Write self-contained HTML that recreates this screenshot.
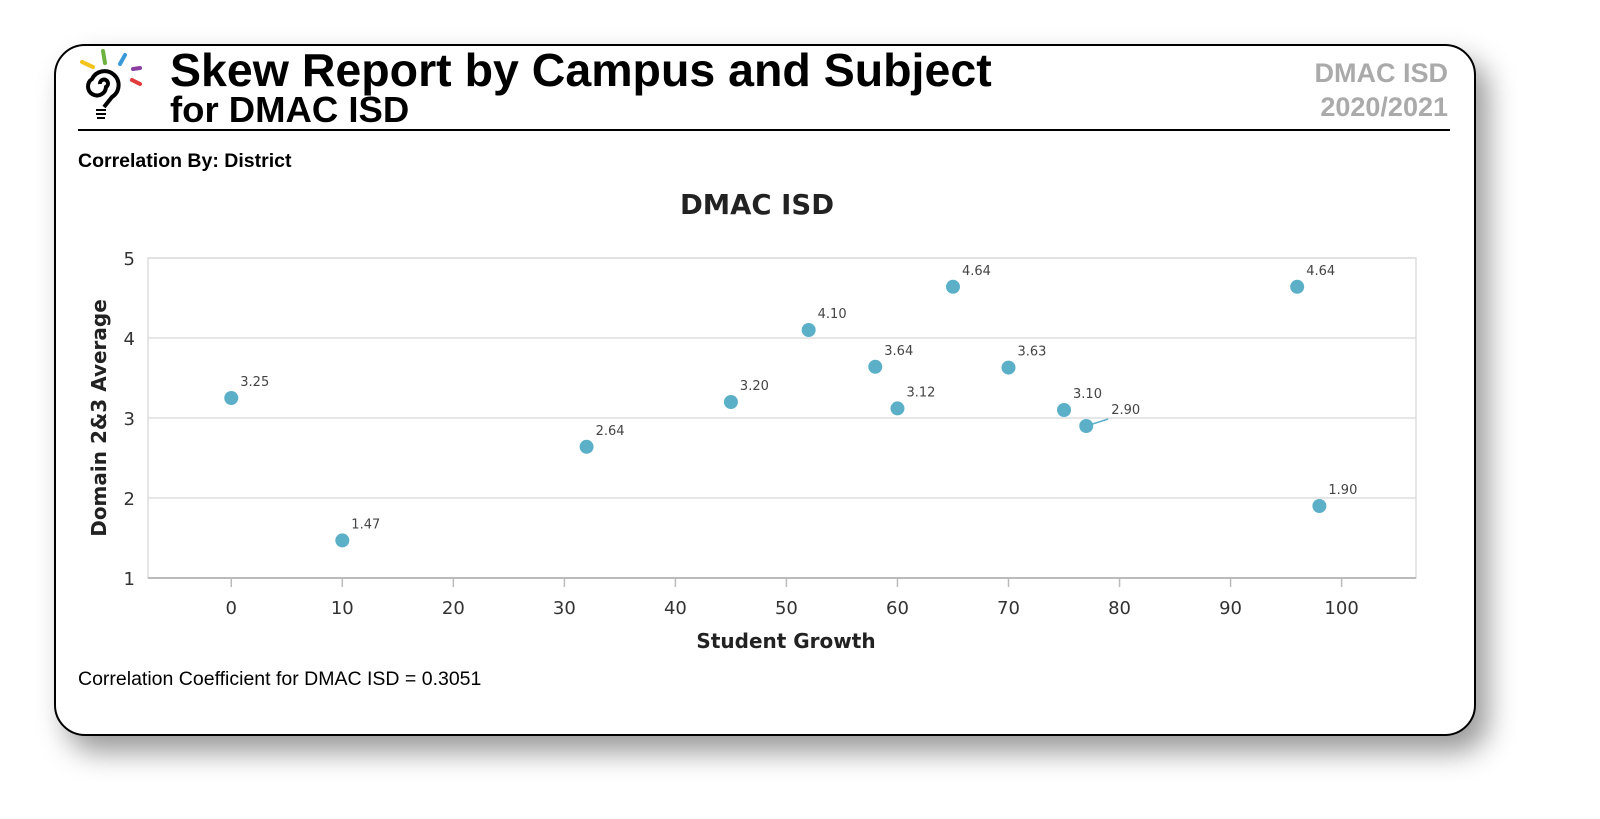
<!DOCTYPE html>
<html><head><meta charset="utf-8"><style>
html,body{margin:0;padding:0;background:#fff;width:1600px;height:819px;overflow:hidden}
svg{display:block}
</style></head><body>
<svg id="root" width="1600" height="819" xmlns="http://www.w3.org/2000/svg">
<defs><filter id="sh" x="-10%" y="-10%" width="130%" height="140%"><feDropShadow dx="12" dy="16" stdDeviation="14" flood-color="#000" flood-opacity="0.4"/></filter></defs>
<rect x="55" y="45" width="1420" height="690" rx="30" fill="#fff" stroke="#000" stroke-width="2" filter="url(#sh)"/>
<g>
<line x1="82" y1="62" x2="93" y2="67" stroke="#f2c31b" stroke-width="4" stroke-linecap="round"/>
<line x1="103" y1="51" x2="105" y2="63" stroke="#6cb33f" stroke-width="4" stroke-linecap="round"/>
<line x1="125" y1="55" x2="120" y2="64" stroke="#3a9ad9" stroke-width="4" stroke-linecap="round"/>
<line x1="133" y1="69" x2="140" y2="68" stroke="#8b3fa0" stroke-width="4" stroke-linecap="round"/>
<line x1="132" y1="80" x2="140" y2="84" stroke="#e23b3b" stroke-width="4" stroke-linecap="round"/>
<path d="M100 84 a4 4 0 1 1 6 3 a9 9 0 1 1 -14 -8 a14 14 0 1 1 20 18 l-8 10" fill="none" stroke="#000" stroke-width="4"/>
<path d="M96 110 h10 M96 114 h10 M97 118 h8" stroke="#000" stroke-width="2"/>
</g>
<text x="170" y="86" font-family="Liberation Sans, sans-serif" font-weight="bold" font-size="46.5">Skew Report by Campus and Subject</text>
<text x="170" y="122" font-family="Liberation Sans, sans-serif" font-weight="bold" font-size="36.5">for DMAC ISD</text>
<text x="1448" y="82" text-anchor="end" font-family="Liberation Sans, sans-serif" font-weight="bold" font-size="27" fill="#aaa">DMAC ISD</text>
<text x="1448" y="116" text-anchor="end" font-family="Liberation Sans, sans-serif" font-weight="bold" font-size="27" fill="#aaa">2020/2021</text>
<line x1="78" y1="130" x2="1450" y2="130" stroke="#000" stroke-width="2"/>
<text x="78" y="167" font-family="Liberation Sans, sans-serif" font-weight="bold" font-size="19.5">Correlation By: District</text>
<text x="757" y="214" text-anchor="middle" font-family="DejaVu Sans, sans-serif" font-weight="bold" font-size="27.5" fill="#222">DMAC ISD</text>
<g id="plot"></g>
<text x="786" y="648" text-anchor="middle" font-family="DejaVu Sans, sans-serif" font-weight="bold" font-size="20" fill="#222">Student Growth</text>
<text transform="translate(106,418) rotate(-90)" text-anchor="middle" font-family="DejaVu Sans, sans-serif" font-weight="bold" font-size="20" fill="#222">Domain 2&amp;3 Average</text>
<text x="78" y="685" font-family="Liberation Sans, sans-serif" font-size="19.5">Correlation Coefficient for DMAC ISD = 0.3051</text>
</svg>
<script>
const xValues=[0,10,32,45,52,58,60,65,70,75,77,96,98];
const yValues=[3.25,1.47,2.64,3.20,4.10,3.64,3.12,4.64,3.63,3.10,2.90,4.64,1.90];
const pointLabels=["3.25","1.47","2.64","3.20","4.10","3.64","3.12","4.64","3.63","3.10","2.90","4.64","1.90"];
const xTicks=[0,10,20,30,40,50,60,70,80,90,100];
const yTicks=[1,2,3,4,5];
const L=148,R=1416,T=258,B=578,xmin=-7.5,xmax=106.7,ymin=1,ymax=5;
const sx=v=>L+(v-xmin)/(xmax-xmin)*(R-L);
const sy=v=>B-(v-ymin)/(ymax-ymin)*(B-T);
const NS="http://www.w3.org/2000/svg",g=document.getElementById('plot');
function mk(t,a,txt){const e=document.createElementNS(NS,t);for(const k in a)e.setAttribute(k,a[k]);if(txt!=null)e.textContent=txt;g.appendChild(e);return e;}
let e=mk('rect',{x:L,y:T,width:R-L,height:B-T,fill:'none',stroke:'#ddd','stroke-width':1.5});


yTicks.forEach(v=>{
 let l=mk('line',{x1:L,x2:R,y1:sy(v),y2:sy(v),stroke:'#ddd','stroke-width':1.5});
 
 
 let t=mk('text',{x:135,y:sy(v)+7,'text-anchor':'end','font-family':'DejaVu Sans, sans-serif','font-size':18,fill:'#333'},String(v));
 
 
});
let ax=mk('line',{x1:L,x2:R,y1:B,y2:B,stroke:'#bbb','stroke-width':2});


xTicks.forEach(v=>{
 let l=mk('line',{x1:sx(v),x2:sx(v),y1:B,y2:B+9,stroke:'#bbb','stroke-width':1.5});
 
 
 let t=mk('text',{x:sx(v),y:614,'text-anchor':'middle','font-family':'DejaVu Sans, sans-serif','font-size':18,fill:'#333'},String(v));
 
 
});
xValues.forEach((xv,i)=>{
 const px=sx(xv),py=sy(yValues[i]);
 let dx=9,dy=-12;
 if(pointLabels[i]==="2.90"){dx=25;dy=-12;
  let c=mk('line',{x1:px,y1:py,x2:px+22,y2:py-7,stroke:'#5bb0c8','stroke-width':1.5});
  
  
 }
 let p=mk('circle',{cx:px,cy:py,r:7,fill:'#5bb0c8'});
 
 
 let t=mk('text',{x:px+dx,y:py+dy,'font-family':'DejaVu Sans, sans-serif','font-size':13,fill:'#444'},pointLabels[i]);
 
 
});
</script>
</body></html>
